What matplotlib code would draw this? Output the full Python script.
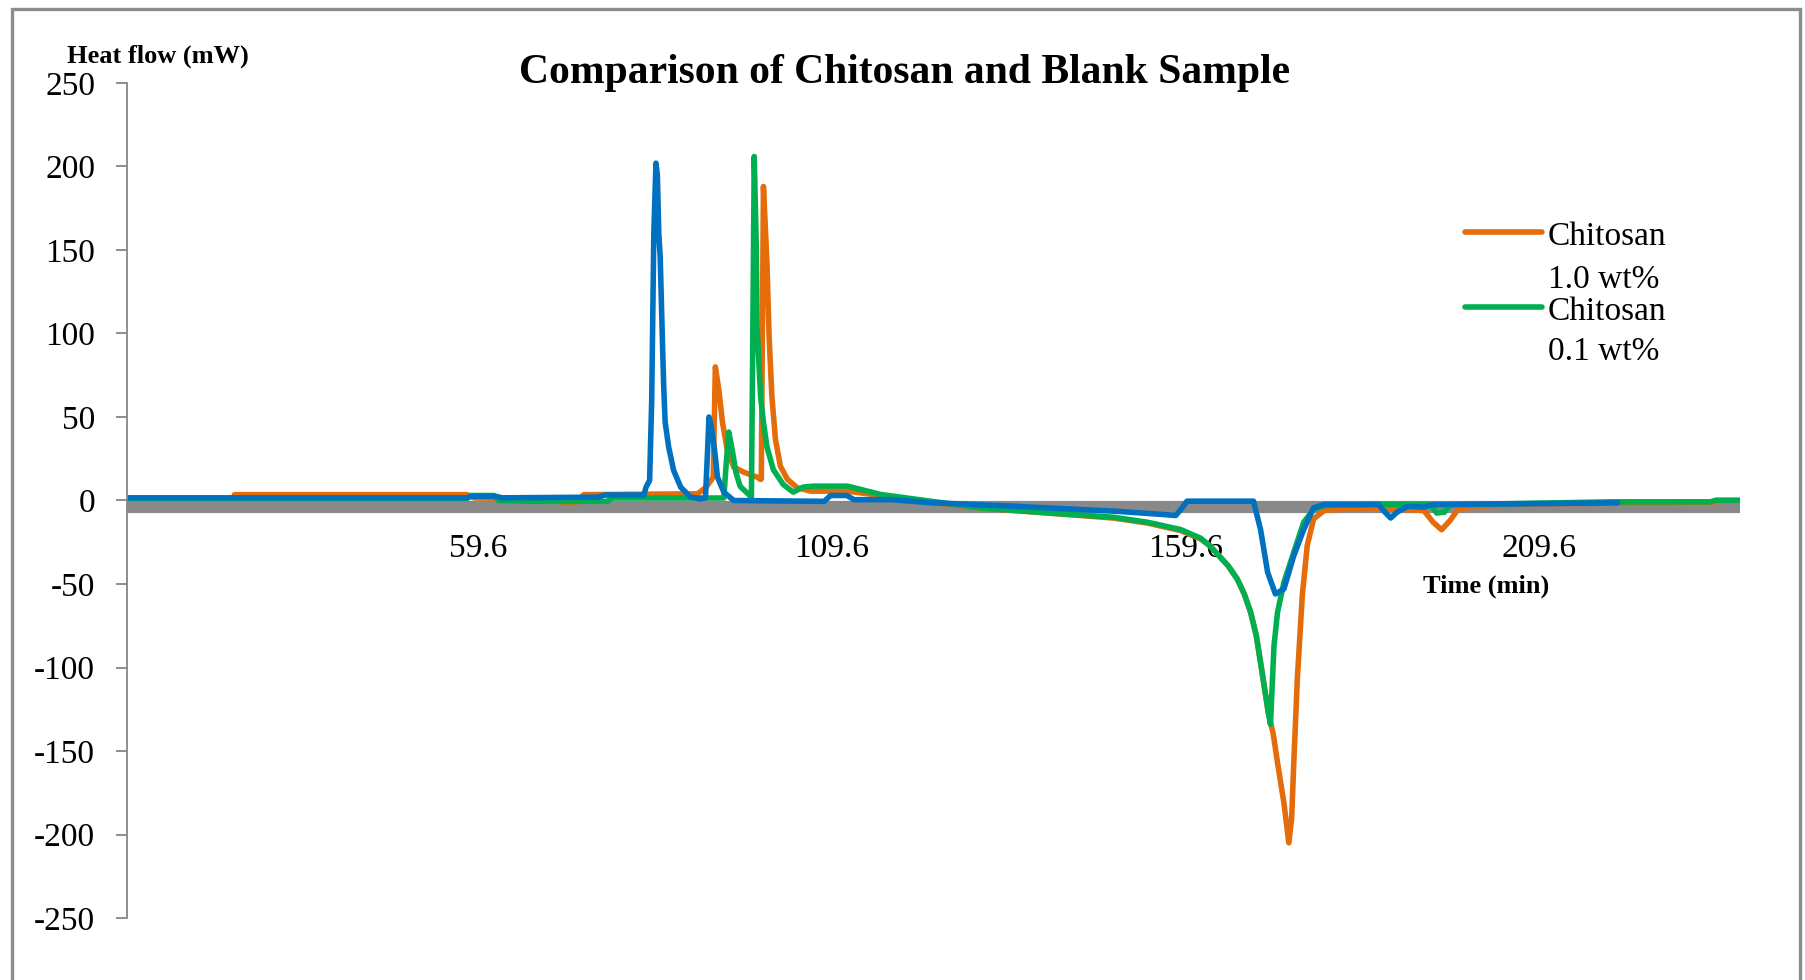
import matplotlib
matplotlib.use('Agg')
import matplotlib.pyplot as plt
from matplotlib.lines import Line2D
from matplotlib.patches import Rectangle

# Blank sample (blue) - time (min) / heat flow (mW)
blank_t = [9.9, 58.0, 58.5, 62.0, 63.0, 76.5, 77.5, 83.0, 83.3, 83.8, 84.1, 84.4, 84.7, 84.9,
           85.1, 85.3, 85.6, 85.8, 86.0, 86.5, 87.2, 88.2, 89.6, 91.0, 91.7, 92.0, 92.2, 92.5,
           93.0, 93.4, 94.3, 95.7, 108.5, 109.4, 111.7, 112.7, 118.0, 123.5, 135.3, 144.7,
           150.0, 156.5, 158.2, 159.0, 159.8, 169.2, 170.2, 171.2, 172.3, 173.5, 174.9, 176.3,
           177.7, 179.2, 186.9, 187.8, 188.6, 189.5, 191.0, 193.3, 194.5, 220.7]
blank_hf = [1.6, 1.6, 2.5, 2.5, 1.6, 2.0, 3.3, 3.3, 8, 12, 60, 160, 202, 195,
            160, 146, 98, 68, 47, 32, 18, 8, 2, 1, 1.5, 30, 50, 45,
            30, 14, 5, 0, -0.5, 3, 3, 0.5, 0.5, -1.3, -3.4, -5.4,
            -6.5, -8.4, -9, -5, -0.4, -0.4, -17.4, -43, -56, -53, -33, -17.4,
            -4.4, -2.4, -2.4, -7, -10.5, -7, -3.5, -4, -2.5, -1.4]

# Chitosan 1.0 wt% (orange)
c10_t = [25.1, 58.0, 59.0, 70.5, 71.5, 73.5, 74.5, 90.6, 91.8, 92.8, 93.1, 93.6, 94.1, 94.8,
         95.7, 97.1, 99.0, 99.5, 99.6, 99.9, 100.4, 100.7, 101.1, 101.6, 102.3, 103.3, 104.7,
         106.6, 111.8, 116.5, 123.5, 130.6, 140.0, 149.4, 154.2, 158.9, 161.7, 163.0, 164.3,
         165.6, 166.9, 167.9, 168.8, 169.6, 170.2, 171.3, 172.0, 172.6, 173.5, 174.2, 174.6,
         174.9, 175.4, 176.1, 176.8, 177.7, 179.2, 181.1, 186.0, 193.3, 194.6, 195.8, 197.0,
         198.1, 200.4, 210.0, 234.5]
c10_hf = [3.5, 3.5, 1.5, 1, -1, -1, 3.5, 4, 8, 14, 80, 66, 47, 30,
          20, 17, 14, 12.6, 13, 188, 142, 98, 62, 36.5, 20.5, 12.6, 7.6,
          5.6, 5.6, 3.0, -1, -4.5, -7.5, -10.5, -13.5, -18, -23, -27, -33,
          -39, -47, -56, -67, -81, -97, -127, -140, -157, -181, -205, -190,
          -157, -107, -57, -27, -11, -6, -5.4, -4.5, -6, -13, -17.5, -12,
          -5.4, -3.5, -2, -1]

# Chitosan 0.1 wt% (green)
c01_t = [9.9, 58.0, 58.5, 61.8, 62.5, 67.5, 77.8, 78.5, 94.3, 94.6, 95.0, 95.5, 96.0, 96.6,
         97.6, 98.2, 98.4, 98.6, 98.9, 99.0, 99.5, 99.9, 100.4, 101.3, 102.7, 104.1, 105.5,
         107.0, 111.8, 116.5, 123.5, 130.6, 140.0, 149.4, 154.2, 158.9, 161.7, 163.0, 164.3,
         165.6, 166.9, 167.9, 168.8, 169.6, 170.2, 171.3, 171.6, 172.1, 172.6, 173.5, 174.9,
         176.3, 177.7, 179.2, 186.0, 194.2, 195.1, 196.2, 197.0, 220.0, 233.8, 234.6, 238.0]
c01_hf = [1.2, 1.2, 3, 3, 0, -0.5, -0.5, 1.5, 1.5, 20, 41, 30, 17, 8.5,
          4.5, 2, 100, 206, 150, 104, 62, 47, 32, 18.5, 9.6, 5, 8,
          8.6, 8.6, 3.6, -0.4, -4.4, -7.4, -10, -13, -17.4, -22.5, -27, -33,
          -39, -47, -56, -67, -81, -97, -127, -134, -87, -67, -49, -31,
          -13, -5.4, -3, -2.4, -2.4, -7.5, -7, -2.5, -0.8, -0.8, 0.2, 0.2]

x_ticks = [59.6, 109.6, 159.6, 209.6]
y_ticks = [250, 200, 150, 100, 50, 0, -50, -100, -150, -200, -250]

plt.rcParams['font.family'] = ['Liberation Serif', 'DejaVu Serif']

W, H = 1806, 980
fig = plt.figure(figsize=(W / 100, H / 100), dpi=100)

# marco gris alrededor del grafico
fig.add_artist(Rectangle((12 / W, -0.05), (1800 - 12) / W, 1.05 - 9 / H,
                         transform=fig.transFigure, fill=False,
                         edgecolor='#8c8c8c', linewidth=2.4))

ax = fig.add_axes([127 / W, (H - 918) / H, (1740 - 127) / W, (918 - 83) / H])

lw = 4.0
ax.plot(c10_t, c10_hf, color='#E46C0A', lw=lw, solid_joinstyle='round', solid_capstyle='round')
ax.plot(c01_t, c01_hf, color='#00B050', lw=lw, solid_joinstyle='round', solid_capstyle='round')
ax.plot(blank_t, blank_hf, color='#0070C0', lw=lw, solid_joinstyle='round', solid_capstyle='round')

ax.set_xlim(9.9, 238)
ax.set_ylim(-250, 250)

for s in ['top', 'right']:
    ax.spines[s].set_visible(False)
ax.spines['left'].set_color('#868686')
ax.spines['left'].set_linewidth(1.3)
# eje horizontal: banda gris gruesa justo debajo de cero
ax.spines['bottom'].set_position(('data', -3.7))
ax.spines['bottom'].set_color('#898989')
ax.spines['bottom'].set_linewidth(8.8)
ax.spines['bottom'].set_capstyle('butt')
ax.spines['bottom'].set_zorder(1)

ax.set_yticks(y_ticks)
ax.set_yticklabels([str(v) for v in y_ticks])
ax.tick_params(axis='y', direction='out', length=8, width=1.3, color='#868686',
               pad=15, labelsize=24)
ax.set_xticks(x_ticks)
ax.set_xticklabels([str(v) for v in x_ticks])
ax.tick_params(axis='x', length=0, pad=19, labelsize=24)

fig.text(905 / W, 1 - 83 / H, 'Comparison of Chitosan and Blank Sample',
         ha='center', va='baseline', fontsize=30, fontweight='bold')
fig.text(67 / W, 1 - 63 / H, 'Heat flow (mW)', ha='left', va='baseline',
         fontsize=19, fontweight='bold')
fig.text(1423 / W, 1 - 593 / H, 'Time (min)', ha='left', va='baseline',
         fontsize=19, fontweight='bold')

# leyenda (solo las dos muestras de quitosano)
fig.add_artist(Line2D([1465 / W, 1542 / W], [1 - 232 / H] * 2, color='#E46C0A',
                      lw=lw, solid_capstyle='round', transform=fig.transFigure))
fig.add_artist(Line2D([1465 / W, 1542 / W], [1 - 307 / H] * 2, color='#00B050',
                      lw=lw, solid_capstyle='round', transform=fig.transFigure))
fig.text(1548 / W, 1 - 245 / H, 'Chitosan', va='baseline', fontsize=24)
fig.text(1548 / W, 1 - 288 / H, '1.0 wt%', va='baseline', fontsize=24)
fig.text(1548 / W, 1 - 320 / H, 'Chitosan', va='baseline', fontsize=24)
fig.text(1548 / W, 1 - 360 / H, '0.1 wt%', va='baseline', fontsize=24)

plt.savefig('out.png', dpi=100)
